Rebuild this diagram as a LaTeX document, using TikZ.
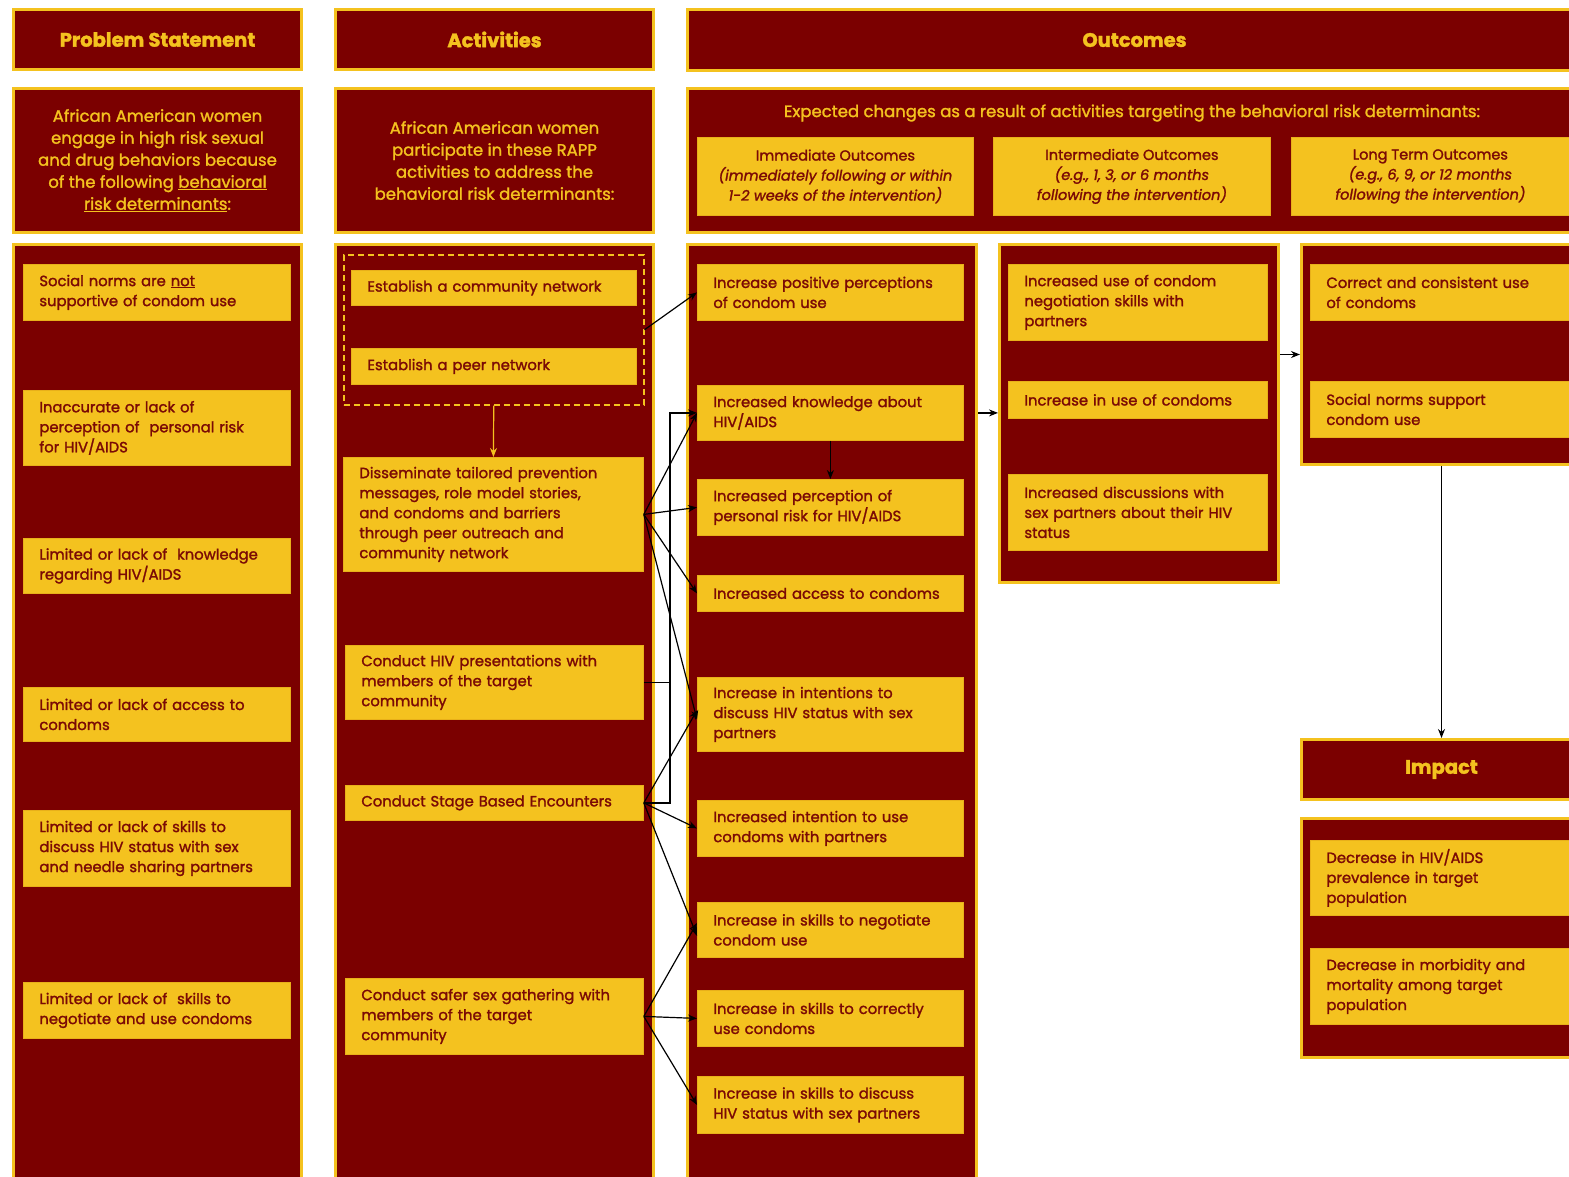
\documentclass[tikz,border=0pt]{standalone}
\usepackage{fontspec}
\setmainfont{Poppins}
\newfontfamily\medf{Poppins}[FakeBold=1.6]
\newfontfamily\hvyf{Poppins}[FakeBold=1.8]
\usetikzlibrary{arrows.meta,calc}
\definecolor{mar}{HTML}{7B0000}
\definecolor{ylw}{HTML}{F4C21F}
\definecolor{ylwd}{HTML}{E8B01A}
\definecolor{txt}{HTML}{7A0A05}
\begin{document}
\begin{tikzpicture}[x=1pt,y=-1pt,
  panel/.style={draw=ylw, line width=3pt, fill=mar, anchor=north west, inner sep=0pt},
  hdr/.style={panel, text=ylw, font=\hvyf\fontsize{19.5}{22}\selectfont\bfseries},
  intro/.style={panel, text=ylw, align=center, font=\medf\fontsize{16.5}{22}\selectfont},
  sub/.style={fill=ylw, draw=ylwd, line width=0.8pt, text=txt, anchor=north west, align=center, inner sep=0pt, font=\medf\fontsize{14.5}{20}\selectfont},
  item/.style={fill=ylw, draw=ylwd, line width=0.8pt, text=txt, anchor=north west, align=left, inner xsep=16pt, inner ysep=0pt, font=\medf\fontsize{14.8}{20}\selectfont},
  colP/.style={item, text width=235pt},
  colA/.style={item, text width=268pt},
  colI/.style={item, text width=234pt},
  colM/.style={item, text width=227pt},
  colL/.style={item, text width=238pt},
  arr/.style={-{Stealth[length=9pt,width=7pt]}, line width=1.2pt, black},
  yarr/.style={-{Stealth[length=9pt,width=7pt]}, line width=1.2pt, ylw}
]
\fill[white] (0,0) rectangle (1569,1176);
\clip (0,0) rectangle (1569,1176);

% ---- header row
\node[hdr, minimum width=288pt, minimum height=60pt] (hps) at (12,8) {Problem Statement};
\node[hdr, minimum width=318pt, minimum height=60pt] (hact) at (334,8) {Activities};
\node[hdr, minimum width=894pt, minimum height=61pt] (hout) at (686,8) {Outcomes};

% ---- intro row
\node[intro, minimum width=288pt, minimum height=144pt] (pst) at (12,87)
  {African American women\\engage in high risk sexual\\and drug behaviors because\\of the following \underline{behavioral}\\\underline{risk determinants}:};
\node[intro, minimum width=318pt, minimum height=144pt] (ast) at (334,87)
  {African American women\\participate in these RAPP\\activities to address the\\behavioral risk determinants:};
\node[panel, minimum width=894pt, minimum height=144pt] (ost) at (686,87) {};
\node[text=ylw, font=\medf\fontsize{16.5}{20}\selectfont] (exp) at (1132,113)
  {Expected changes as a result of activities targeting the behavioral risk determinants:};
\node[sub, minimum width=276pt, minimum height=78pt] (imo) at (697,137)
  {Immediate Outcomes\\\textit{(immediately following or within}\\\textit{1-2 weeks of the intervention)}};
\node[sub, minimum width=277pt, minimum height=78pt] (ino) at (993,137)
  {Intermediate Outcomes\\\textit{(e.g., 1, 3, or 6 months}\\\textit{following the intervention)}};
\node[sub, minimum width=278pt, minimum height=78pt] (lto) at (1291,137)
  {Long Term Outcomes\\\textit{(e.g., 6, 9, or 12 months}\\\textit{following the intervention)}};

% ---- column panels
\node[panel, minimum width=288pt, minimum height=960pt] (pcol) at (12,243) {};
\node[panel, minimum width=318pt, minimum height=960pt] (acol) at (334,243) {};
\node[panel, minimum width=289pt, minimum height=960pt] (icol) at (686,243) {};
\node[panel, minimum width=279pt, minimum height=338pt] (mcol) at (998,243) {};
\node[panel, minimum width=280pt, minimum height=220pt] (lcol) at (1300,243) {};
\node[hdr, minimum width=280pt, minimum height=60pt] (himp) at (1300,738) {Impact};
\node[panel, minimum width=280pt, minimum height=239pt] (impc) at (1300,817) {};

% ---- problem items
\node[colP, minimum height=56pt] (p1) at (23,264) {Social norms are \underline{not}\\supportive of condom use};
\node[colP, minimum height=75pt] (p2) at (23,390) {Inaccurate or lack of\\perception of\ \ personal risk\\for HIV/AIDS};
\node[colP, minimum height=55pt] (p3) at (23,538) {Limited or lack of\ \ knowledge\\regarding HIV/AIDS};
\node[colP, minimum height=54pt] (p4) at (23,687) {Limited or lack of access to\\condoms};
\node[colP, minimum height=76pt] (p5) at (23,810) {Limited or lack of skills to\\discuss HIV status with sex\\and needle sharing partners};
\node[colP, minimum height=56pt] (p6) at (23,982) {Limited or lack of\ \ skills to\\negotiate and use condoms};

% ---- activities
\node[draw=ylw, dashed, dash pattern=on 6pt off 4pt, line width=1.5pt, anchor=north west, inner sep=0pt, minimum width=300pt, minimum height=150pt] (dash) at (343,254) {};
\node[item, text width=253pt, minimum height=35pt] (a1) at (351,270) {Establish a community network};
\node[item, text width=253pt, minimum height=36pt] (a2) at (351,348) {Establish a peer network};
\node[colA, minimum height=114pt] (diss) at (343,457) {Disseminate tailored prevention\\messages, role model stories,\\and condoms and barriers\\through peer outreach and\\community network};
\node[item, text width=266pt, minimum height=74pt] (pres) at (345,645) {Conduct HIV presentations with\\members of the target\\community};
\node[item, text width=266pt, minimum height=35pt] (stage) at (345,785) {Conduct Stage Based Encounters};
\node[item, text width=266pt, minimum height=76pt] (safer) at (345,978) {Conduct safer sex gathering with\\members of the target\\community};

% ---- immediate outcomes
\node[colI, minimum height=56pt] (pos) at (697,264) {Increase positive perceptions\\of condom use};
\node[colI, minimum height=55pt] (know) at (697,385) {Increased knowledge about\\HIV/AIDS};
\node[colI, minimum height=56pt] (perc) at (697,479) {Increased perception of\\personal risk for HIV/AIDS};
\node[colI, minimum height=36pt] (access) at (697,575) {Increased access to condoms};
\node[colI, minimum height=74pt] (intent) at (697,677) {Increase in intentions to\\discuss HIV status with sex\\partners};
\node[colI, minimum height=56pt] (intuse) at (697,800) {Increased intention to use\\condoms with partners};
\node[colI, minimum height=55pt] (nego) at (697,902) {Increase in skills to negotiate\\condom use};
\node[colI, minimum height=56pt] (correct) at (697,990) {Increase in skills to correctly\\use condoms};
\node[colI, minimum height=57pt] (discuss) at (697,1076) {Increase in skills to discuss\\HIV status with sex partners};

% ---- intermediate outcomes
\node[colM, minimum height=76pt] (m1) at (1008,264) {Increased use of condom\\negotiation skills with\\partners};
\node[colM, minimum height=37pt] (m2) at (1008,381) {Increase in use of condoms};
\node[colM, minimum height=76pt] (m3) at (1008,474) {Increased discussions with\\sex partners about their HIV\\status};

% ---- long term outcomes
\node[colL, minimum height=56pt] (l1) at (1310,264) {Correct and consistent use\\of condoms};
\node[colL, minimum height=56pt] (l2) at (1310,381) {Social norms support\\condom use};

% ---- impact
\node[colL, minimum height=75pt] (i1) at (1310,840) {Decrease in HIV/AIDS\\prevalence in target\\population};
\node[colL, minimum height=76pt] (i2) at (1310,948) {Decrease in morbidity and\\mortality among target\\population};

% ---- connectors
\draw[yarr] (dash.south) -- (diss.north);
\draw[arr] (dash.east) -- (pos.west);
\draw[arr] (diss.east) -- (know.west);
\draw[arr] (diss.east) -- (perc.west);
\draw[arr] (diss.east) -- (access.west);
\draw[arr] (diss.east) -- ([yshift=-5pt]intent.west);
\coordinate (brk) at (670,700);
\draw[line width=1.2pt] (pres.east) -- (pres.east -| brk);
\draw[arr] (stage.east) -| (brk |- know.west) -- (know.west);
\draw[arr] (stage.east) -- ([yshift=4pt]intent.west);
\draw[arr] (stage.east) -- (intuse.west);
\draw[arr] (stage.east) -- ([yshift=-6pt]nego.west);
\draw[arr] (safer.east) -- ([yshift=7pt]nego.west);
\draw[arr] (safer.east) -- (correct.west);
\draw[arr] (safer.east) -- (discuss.west);
\draw[arr] (know.south) -- (perc.north);
\draw[arr] (icol.east |- know.east) -- (mcol.west |- know.east);
\draw[arr] (mcol.east |- lcol.west) -- (lcol.west);
\draw[arr] (lcol.south) -- (himp.north);
\end{tikzpicture}
\end{document}
